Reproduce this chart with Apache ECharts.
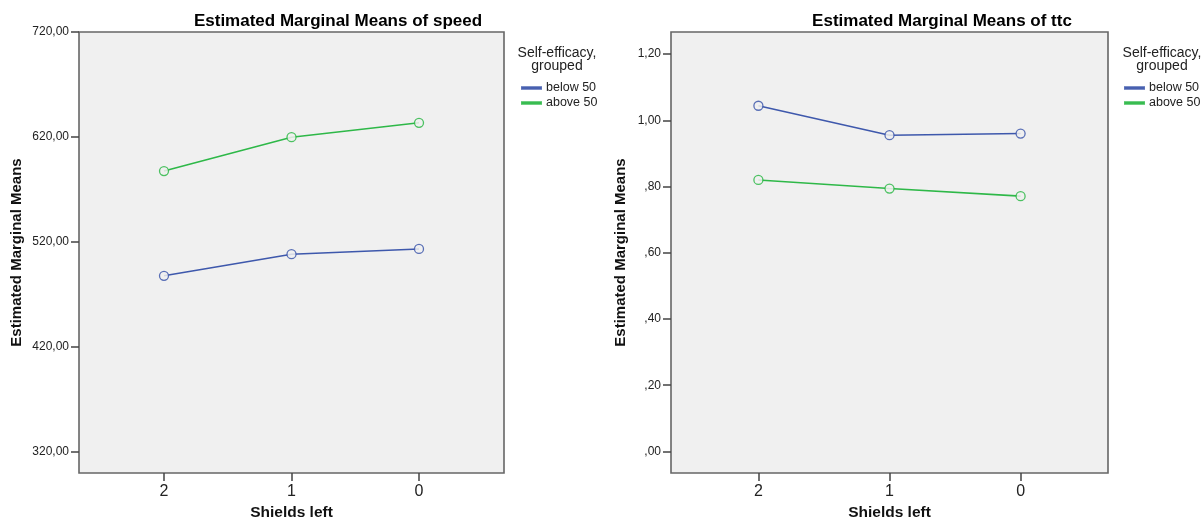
<!DOCTYPE html>
<html>
<head>
<meta charset="utf-8">
<script src="https://cdn.jsdelivr.net/npm/echarts@6/dist/echarts.min.js"></script>
<style>
html,body{margin:0;padding:0;background:#fff;}
#chart{width:1204px;height:526px;}
</style>
</head>
<body>
<div id="chart"></div>
<script>
// ---- data ----
var xLabels = ['2', '1', '0'];
var groupNames = ['below 50', 'above 50'];
var speedBelow = [487.5, 508.1, 513.1];
var speedAbove = [587.4, 619.7, 633.4];
var ttcBelow = [1.044, 0.955, 0.960];
var ttcAbove = [0.820, 0.794, 0.771];
var speedTicks = [320, 420, 520, 620, 720];
var speedTickLabels = ['320,00', '420,00', '520,00', '620,00', '720,00'];
var ttcTicks = [0, 0.2, 0.4, 0.6, 0.8, 1.0, 1.2];
var ttcTickLabels = [',00', ',20', ',40', ',60', ',80', '1,00', '1,20'];
var titles = ['Estimated Marginal Means of speed', 'Estimated Marginal Means of ttc'];
var yName = 'Estimated Marginal Means';
var xName = 'Shields left';
var legendTitle = 'Self-efficacy,\ngrouped';

var FONT = '"Liberation Sans", Arial, sans-serif';
var colors = ['#3E58AC', '#2EB848'];

function toPairs(arr) { return arr.map(function (v, i) { return [i, v]; }); }
function labelFrom(ticks, labels) {
  return function (v) {
    for (var i = 0; i < ticks.length; i++) if (Math.abs(ticks[i] - v) < 1e-6) return labels[i];
    return '';
  };
}

var chart = echarts.init(document.getElementById('chart'), null, {renderer: 'canvas'});

function xAxisCfg(gi) {
  return {
    type: 'value', gridIndex: gi, min: -2 / 3, max: 8 / 3,
    name: xName, nameLocation: 'middle', nameGap: 32,
    nameTextStyle: {fontFamily: FONT, fontSize: 15.5, fontWeight: 'bold', color: '#111'},
    axisLine: {show: false, onZero: false},
    axisTick: {show: true, length: 8, customValues: [0, 1, 2], lineStyle: {color: '#444', width: 1.5}},
    axisLabel: {customValues: [0, 1, 2], margin: 11, fontFamily: FONT, fontSize: 16, color: '#222',
      formatter: function (v) { return xLabels[Math.round(v)]; }},
    splitLine: {show: false}
  };
}
function yAxisCfg(gi, min, max, ticks, labels, gap) {
  return {
    type: 'value', gridIndex: gi, min: min, max: max,
    name: yName, nameLocation: 'middle', nameGap: gap,
    nameTextStyle: {fontFamily: FONT, fontSize: 15, fontWeight: 'bold', color: '#111'},
    axisLine: {show: false, onZero: false},
    axisTick: {show: true, length: 8, customValues: ticks, lineStyle: {color: '#444', width: 1.5}},
    axisLabel: {customValues: ticks, margin: 10, fontFamily: FONT, fontSize: 12, color: '#222',
      formatter: labelFrom(ticks, labels)},
    splitLine: {show: false}
  };
}
function lineSeries(name, data, ci, gi) {
  return {
    type: 'line', name: name, xAxisIndex: gi, yAxisIndex: gi,
    data: toPairs(data),
    symbol: 'circle', symbolSize: 9,
    lineStyle: {color: colors[ci], width: 1.6},
    itemStyle: {color: '#f0f0f0', borderColor: colors[ci], borderWidth: 1.3, opacity: 0.85},
    emphasis: {disabled: true}, animation: false, z: 3
  };
}
function legendCfg(left) {
  return {
    orient: 'vertical', left: left, top: 76, itemGap: 1,
    itemWidth: 19, itemHeight: 1.6, icon: 'rect', selectedMode: false,
    textStyle: {fontFamily: FONT, fontSize: 12.5, color: '#222', lineHeight: 14},
    data: groupNames.map(function (n, i) { return {name: n, itemStyle: {color: colors[i]}}; })
  };
}

chart.setOption({
  animation: false,
  backgroundColor: '#ffffff',
  title: [
    {text: titles[0], left: 333, top: 8, textAlign: 'center',
      textStyle: {fontFamily: FONT, fontSize: 17, fontWeight: 'bold', color: '#000'}},
    {text: titles[1], left: 937, top: 8, textAlign: 'center',
      textStyle: {fontFamily: FONT, fontSize: 17, fontWeight: 'bold', color: '#000'}},
    {text: legendTitle, left: 552, top: 42, textAlign: 'center',
      textStyle: {fontFamily: FONT, fontSize: 14, fontWeight: 'normal', color: '#222', lineHeight: 13}},
    {text: legendTitle, left: 1157, top: 42, textAlign: 'center',
      textStyle: {fontFamily: FONT, fontSize: 14, fontWeight: 'normal', color: '#222', lineHeight: 13}}
  ],
  legend: [legendCfg(516), legendCfg(1119)],
  grid: [
    {left: 79, top: 32, width: 425, height: 442, show: true, backgroundColor: '#f0f0f0',
      borderColor: '#666', borderWidth: 1.6, containLabel: false},
    {left: 671, top: 32, width: 437, height: 442, show: true, backgroundColor: '#f0f0f0',
      borderColor: '#666', borderWidth: 1.6, containLabel: false}
  ],
  xAxis: [xAxisCfg(0), xAxisCfg(1)],
  yAxis: [
    yAxisCfg(0, 299.45, 720, speedTicks, speedTickLabels, 55),
    yAxisCfg(1, -0.065, 1.2667, ttcTicks, ttcTickLabels, 43)
  ],
  series: [
    lineSeries(groupNames[0], speedBelow, 0, 0),
    lineSeries(groupNames[1], speedAbove, 1, 0),
    lineSeries(groupNames[0], ttcBelow, 0, 1),
    lineSeries(groupNames[1], ttcAbove, 1, 1)
  ]
});
</script>
</body>
</html>
